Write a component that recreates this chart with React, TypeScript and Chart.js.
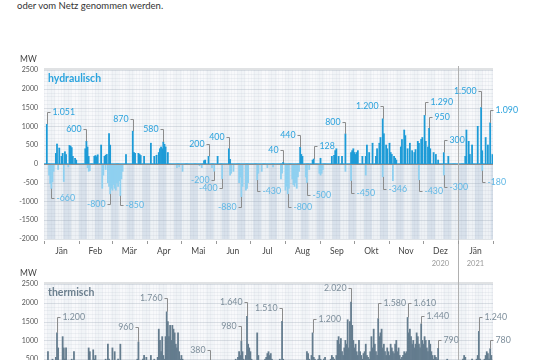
import React, { useEffect, useRef } from 'react';
import { Chart, registerables } from 'chart.js';
Chart.register(...registerables);

const MONTHS = ['Jän', 'Feb', 'Mär', 'Apr', 'Mai', 'Jun', 'Jul', 'Aug', 'Sep', 'Okt', 'Nov', 'Dez', 'Jän'];
const MONTH_DAYS = [31, 29, 31, 30, 31, 30, 31, 31, 30, 31, 30, 31, 31];
const YEAR_LABELS = [{ text: '2020', month: 11 }, { text: '2021', month: 12 }];
const TOP_TICKS = [2500, 2000, 1500, 1000, 500, 0, -500, -1000, -1500, -2000];
const BOTTOM_TICKS = [2500, 2000, 1500, 1000, 500, 0];

// hydraulisch, daily maximum feed-in (MW), sparse per month: {dayOfMonthIndex: MW}
const HYDRO_POS: Record<number, number>[] = [
  { 2: 1051, 10: 280, 11: 530, 13: 420, 15: 200, 16: 280, 18: 320, 19: 250, 22: 490, 23: 470, 24: 430, 25: 200, 27: 150, 28: 100 },
  { 5: 400, 6: 600, 7: 450, 8: 200, 13: 200, 14: 220, 15: 190, 16: 240, 19: 500, 22: 200, 23: 230, 24: 250, 26: 810, 27: 500 },
  { 12: 250, 18: 870, 19: 300, 20: 280, 23: 280, 24: 250, 25: 220, 28: 200 },
  { 3: 550, 6: 200, 8: 230, 10: 300, 11: 400, 12: 450, 13: 400, 14: 580, 15: 520, 16: 450, 18: 300 },
  { 20: 80, 21: 100, 24: 200 },
  { 1: 200, 11: 400, 12: 120 },
  { 29: 40 },
  { 13: 440, 14: 250, 15: 200, 24: 100, 25: 128 },
  { 0: 150, 10: 200, 12: 230, 13: 350, 14: 400, 16: 200, 19: 200, 22: 800, 27: 300, 28: 350, 29: 400 },
  { 0: 300, 1: 250, 2: 300, 3: 350, 7: 200, 10: 200, 11: 500, 13: 300, 16: 550, 19: 200, 20: 400, 22: 550, 23: 700, 25: 1200, 26: 800, 28: 500, 29: 400 },
  { 0: 550, 1: 300, 2: 250, 4: 200, 5: 150, 6: 100, 10: 450, 11: 650, 13: 900, 14: 750, 16: 400, 18: 550, 20: 350, 22: 300, 23: 380, 25: 600, 26: 550, 28: 650, 29: 700 },
  { 1: 1290, 2: 600, 4: 450, 5: 950, 6: 400, 9: 300, 11: 250, 13: 100, 18: 300, 22: 200 },
  { 6: 200, 7: 900, 9: 600, 10: 250, 12: 500, 17: 1000, 20: 1500, 21: 350, 24: 700, 26: 500, 28: 1090, 30: 250 },
];

// hydraulisch, daily maximum consumption (pumping), MW
const HYDRO_NEG: Record<number, number>[] = [
  { 4: -300, 5: -520, 6: -660, 7: -480, 8: -200, 12: -150, 17: -470, 21: -80 },
  { 7: -100, 8: -200, 9: -180, 20: -650, 21: -300, 23: -150, 25: -500, 26: -600, 27: -800, 28: -650 },
  { 0: -700, 1: -550, 2: -650, 3: -700, 4: -500, 5: -600, 6: -450, 7: -850, 8: -400, 9: -200 },
  { 26: -100, 28: -80 },
  { 1: -200, 16: -50, 18: -100, 27: -100, 29: -200 },
  { 5: -400, 12: -300, 13: -250, 15: -200, 20: -500, 21: -350, 22: -880, 23: -600, 26: -700, 27: -650, 28: -500 },
  { 6: -430, 7: -250, 10: -200, 15: -100, 20: -80, 27: -400, 28: -250 },
  { 0: -700, 1: -600, 2: -800, 3: -650, 6: -400, 7: -550, 8: -600, 9: -500, 10: -650, 11: -350, 12: -200, 18: -350, 19: -500, 21: -150, 30: -250 },
  { 0: -300, 1: -250, 2: -150, 22: -200, 27: -450 },
  { 10: -300, 25: -346 },
  { 3: -450, 26: -430 },
  { 18: -300 },
  { 21: -180 },
];

// thermisch, daily values (MW), one row per month
const THERMAL: number[][] = [
  [300, 250, 400, 700, 350, 300, 450, 500, 300, 350, 550, 1200, 800, 400, 350, 450, 1100, 800, 500, 800, 400, 300, 350, 450, 500, 400, 700, 350, 300, 250, 300],
  [300, 350, 400, 300, 250, 400, 450, 350, 800, 700, 400, 350, 750, 500, 600, 400, 350, 300, 400, 450, 350, 300, 400, 500, 450, 900, 500, 400, 350],
  [800, 450, 700, 400, 350, 500, 450, 900, 400, 350, 300, 400, 350, 300, 250, 350, 400, 450, 350, 300, 400, 350, 500, 960, 450, 400, 350, 500, 600, 450, 550],
  [400, 350, 450, 600, 400, 350, 500, 450, 400, 550, 1300, 1000, 700, 1100, 600, 500, 1100, 1760, 1500, 1100, 1400, 1000, 1400, 1300, 1200, 900, 800, 1200, 700, 500],
  [600, 500, 400, 350, 300, 350, 400, 300, 250, 300, 350, 400, 450, 300, 250, 200, 300, 350, 250, 300, 350, 300, 250, 200, 300, 380, 250, 200, 300, 250, 350],
  [300, 350, 400, 300, 250, 300, 350, 400, 450, 300, 350, 400, 300, 250, 350, 400, 450, 500, 400, 550, 700, 600, 980, 700, 500, 450, 600, 1640, 900, 800],
  [700, 500, 450, 400, 350, 400, 1200, 600, 450, 400, 350, 400, 450, 500, 550, 650, 700, 600, 650, 500, 400, 350, 300, 350, 400, 450, 500, 400, 1510, 500, 450],
  [400, 350, 300, 350, 400, 300, 250, 300, 350, 300, 250, 300, 350, 400, 350, 300, 350, 400, 450, 700, 650, 500, 450, 600, 1200, 550, 500, 450, 400, 500, 600],
  [500, 450, 400, 500, 550, 450, 400, 350, 400, 500, 600, 550, 500, 450, 600, 1000, 1100, 900, 1050, 700, 600, 800, 1000, 900, 1550, 800, 1500, 2020, 1400, 1000],
  [800, 900, 700, 600, 1000, 700, 600, 500, 650, 700, 900, 600, 550, 500, 700, 1100, 800, 1300, 900, 700, 600, 1580, 1100, 1200, 1300, 800, 900, 700, 600, 800, 700],
  [600, 900, 800, 700, 650, 900, 1000, 700, 800, 600, 500, 550, 600, 700, 650, 700, 1610, 1200, 1300, 1100, 900, 1000, 800, 900, 1200, 1100, 900, 800, 1440, 1000],
  [900, 1100, 1000, 800, 700, 1000, 900, 700, 600, 500, 600, 550, 500, 790, 450, 400, 350, 400, 300, 350, 400, 500, 350, 300, 250, 300, 350, 300, 250, 200, 300],
  [300, 350, 400, 450, 500, 600, 550, 400, 350, 300, 400, 450, 500, 400, 350, 450, 500, 600, 1240, 500, 450, 400, 350, 500, 600, 700, 650, 500, 780, 600, 400],
];

type Note = { m: number; d: number; at: number; side: 'l' | 'r' };
// labelled values: month, day index, MW height of the label, side of the label
const HYDRO_POS_NOTES: Note[] = [
  { m: 0, d: 2, at: 1380, side: 'r' }, { m: 1, d: 6, at: 920, side: 'l' }, { m: 2, d: 18, at: 1205, side: 'l' },
  { m: 3, d: 14, at: 920, side: 'l' }, { m: 4, d: 24, at: 540, side: 'l' }, { m: 5, d: 11, at: 710, side: 'l' },
  { m: 6, d: 29, at: 380, side: 'l' }, { m: 7, d: 13, at: 770, side: 'l' }, { m: 7, d: 25, at: 480, side: 'r' },
  { m: 8, d: 22, at: 1125, side: 'l' }, { m: 9, d: 25, at: 1550, side: 'l' }, { m: 11, d: 1, at: 1655, side: 'r' },
  { m: 11, d: 5, at: 1260, side: 'r' }, { m: 11, d: 18, at: 640, side: 'r' }, { m: 12, d: 20, at: 1950, side: 'l' },
  { m: 12, d: 28, at: 1435, side: 'r' },
];
const HYDRO_NEG_NOTES: Note[] = [
  { m: 0, d: 6, at: -895, side: 'r' }, { m: 1, d: 27, at: -1075, side: 'l' }, { m: 2, d: 7, at: -1100, side: 'r' },
  { m: 4, d: 29, at: -425, side: 'l' }, { m: 5, d: 5, at: -630, side: 'l' }, { m: 5, d: 22, at: -1135, side: 'l' },
  { m: 6, d: 6, at: -735, side: 'r' }, { m: 7, d: 2, at: -1135, side: 'r' }, { m: 7, d: 19, at: -835, side: 'r' },
  { m: 8, d: 27, at: -765, side: 'r' }, { m: 9, d: 25, at: -665, side: 'r' }, { m: 10, d: 26, at: -720, side: 'r' },
  { m: 11, d: 18, at: -605, side: 'r' }, { m: 12, d: 21, at: -490, side: 'r' },
];
const THERMAL_NOTES: Note[] = [
  { m: 0, d: 11, at: 1615, side: 'r' }, { m: 2, d: 23, at: 1365, side: 'l' }, { m: 3, d: 17, at: 2120, side: 'l' },
  { m: 4, d: 25, at: 745, side: 'l' }, { m: 5, d: 22, at: 1390, side: 'l' }, { m: 5, d: 27, at: 2010, side: 'l' },
  { m: 6, d: 28, at: 1870, side: 'l' }, { m: 7, d: 24, at: 1560, side: 'r' }, { m: 8, d: 27, at: 2400, side: 'l' },
  { m: 9, d: 21, at: 1985, side: 'r' }, { m: 10, d: 16, at: 1985, side: 'r' }, { m: 10, d: 28, at: 1660, side: 'r' },
  { m: 11, d: 13, at: 1010, side: 'r' }, { m: 12, d: 18, at: 1630, side: 'r' }, { m: 12, d: 28, at: 1010, side: 'r' },
];

const FONT = 'Lato, "Open Sans", sans-serif';
const HYDRO_COLOR = '#1d9bd7';
const HYDRO_NEG_COLOR = '#8fd0f0';
const THERMAL_COLOR = '#647c8e';

const MONTH_START: number[] = [];
MONTH_DAYS.reduce((acc, n, i) => { MONTH_START[i] = acc; return acc + n; }, 0);
const CATEGORIES: string[] = [];
MONTH_DAYS.forEach((n, m) => { for (let d = 0; d < n; d++) CATEGORIES.push(`${d + 1}. ${MONTHS[m]}`); });

const denseFromSparse = (rows: Record<number, number>[]) =>
  rows.flatMap((row, m) => Array.from({ length: MONTH_DAYS[m] }, (_, d) => row[d] ?? 0));
const denseFromRows = (rows: number[][]) => rows.flat();

function fmt(v: number) {
  const s = Math.abs(v).toString();
  const t = s.length > 3 ? s.slice(0, -3) + '.' + s.slice(-3) : s;
  return (v < 0 ? '-' : '') + t;
}

type PanelCfg = {
  title: string;
  titleColor: string;
  ticks: number[];
  showXAxis: boolean;
  notes: { list: Note[]; data: number[]; color: string }[];
  dividerTop: number;
};

function makePanelPlugin(cfg: PanelCfg) {
  return {
    id: 'panelDeco',
    beforeDatasetsDraw(chart: any) {
      const { ctx, chartArea, scales } = chart;
      const { left, right, top, bottom } = chartArea;
      const x = scales.x, y = scales.y;
      const n = CATEGORIES.length;
      const w = (right - left) / n;
      const y0 = Math.min(bottom, y.getPixelForValue(0));
      ctx.save();
      ctx.fillStyle = '#f8f9fb';
      ctx.fillRect(left, top, right - left, bottom - top);
      if (y0 < bottom) {
        ctx.fillStyle = '#edf1f5';
        ctx.fillRect(left, y0, right - left, bottom - y0);
      }
      // alternating week bands
      for (let i = 3; i < n; i += 14) {
        const x0 = x.getPixelForValue(i) - w / 2;
        const ww = Math.min(7 * w, right - x0);
        ctx.fillStyle = 'rgba(205,216,228,0.16)';
        ctx.fillRect(x0, top, ww, y0 - top);
        if (y0 < bottom) {
          ctx.fillStyle = 'rgba(196,210,225,0.5)';
          ctx.fillRect(x0, y0, ww, bottom - y0);
        }
      }
      // fine grid
      ctx.lineWidth = 1;
      for (let v = y.min; v <= y.max; v += 100) {
        const py = Math.round(y.getPixelForValue(v)) + 0.5;
        ctx.strokeStyle = v % 500 === 0 ? 'rgba(150,162,175,0.3)' : 'rgba(160,172,185,0.12)';
        ctx.beginPath(); ctx.moveTo(left, py); ctx.lineTo(right, py); ctx.stroke();
      }
      ctx.strokeStyle = 'rgba(160,172,185,0.08)';
      for (let i = 0; i < n; i += 3) {
        const px = Math.round(x.getPixelForValue(i) - w / 2) + 0.5;
        ctx.beginPath(); ctx.moveTo(px, top); ctx.lineTo(px, bottom); ctx.stroke();
      }
      // top border
      ctx.fillStyle = '#e0e2e4';
      ctx.fillRect(left, top - 2, right - left, 2);
      ctx.restore();
    },
    afterDatasetsDraw(chart: any) {
      const { ctx, chartArea, scales } = chart;
      const { left, right, top, bottom } = chartArea;
      const x = scales.x, y = scales.y;
      const n = CATEGORIES.length;
      const w = (right - left) / n;
      const boundary = (i: number) => x.getPixelForValue(i) - w / 2;
      ctx.save();
      // zero line
      if (y.min < 0) {
        const py = Math.round(y.getPixelForValue(0)) + 0.5;
        ctx.strokeStyle = '#8e8e8e'; ctx.lineWidth = 1;
        ctx.beginPath(); ctx.moveTo(left, py); ctx.lineTo(right, py); ctx.stroke();
      }
      // year divider
      const dx = Math.round(boundary(MONTH_START[12])) + 0.5;
      ctx.strokeStyle = '#b0b0b0'; ctx.lineWidth = 1;
      ctx.beginPath(); ctx.moveTo(dx, cfg.dividerTop); ctx.lineTo(dx, chart.height); ctx.stroke();

      // y tick labels
      ctx.fillStyle = '#555';
      ctx.font = `7px ${FONT}`;
      ctx.textAlign = 'right'; ctx.textBaseline = 'middle';
      cfg.ticks.forEach((v) => ctx.fillText(String(v), left - 6, y.getPixelForValue(v)));
      ctx.font = `8.5px ${FONT}`;
      ctx.textAlign = 'left';
      ctx.fillStyle = '#444';
      ctx.fillText('MW', 20, top - 11);

      // title
      ctx.font = `bold 10.5px ${FONT}`;
      ctx.fillStyle = cfg.titleColor;
      ctx.fillText(cfg.title, left + 4, top + 9);

      if (cfg.showXAxis) {
        ctx.strokeStyle = '#999';
        for (let m = 0; m <= MONTHS.length; m++) {
          const idx = m < MONTHS.length ? MONTH_START[m] : n;
          const px = Math.round(idx < n ? boundary(idx) : right) + 0.5;
          ctx.beginPath(); ctx.moveTo(px, bottom + 2); ctx.lineTo(px, bottom + 5); ctx.stroke();
        }
        ctx.font = `8.5px ${FONT}`;
        ctx.fillStyle = '#444';
        ctx.textAlign = 'center';
        MONTHS.forEach((name, m) => {
          const a = boundary(MONTH_START[m]);
          const b = m + 1 < MONTHS.length ? boundary(MONTH_START[m + 1]) : right;
          ctx.fillText(name, (a + b) / 2, bottom + 12);
        });
        ctx.font = `7.5px ${FONT}`;
        ctx.fillStyle = '#9a9a9a';
        YEAR_LABELS.forEach(({ text, month }) => {
          const a = boundary(MONTH_START[month]);
          const b = month + 1 < MONTHS.length ? boundary(MONTH_START[month + 1]) : right;
          ctx.fillText(text, (a + b) / 2, bottom + 25);
        });
      }

      // annotations
      ctx.font = `8.8px ${FONT}`;
      ctx.textBaseline = 'middle';
      cfg.notes.forEach(({ list, data, color }) => {
        list.forEach((note) => {
          const idx = MONTH_START[note.m] + note.d;
          const val = data[idx];
          const px = Math.round(x.getPixelForValue(idx)) + 0.5;
          const pyBar = y.getPixelForValue(val);
          const pyLab = Math.round(y.getPixelForValue(note.at)) + 0.5;
          const dir = note.side === 'r' ? 1 : -1;
          ctx.strokeStyle = '#8c8c8c'; ctx.lineWidth = 1;
          ctx.beginPath();
          ctx.moveTo(px, pyBar);
          ctx.lineTo(px, pyLab);
          ctx.lineTo(px + dir * 3, pyLab);
          ctx.stroke();
          ctx.fillStyle = color;
          ctx.textAlign = dir > 0 ? 'left' : 'right';
          ctx.fillText(fmt(val), px + dir * 5, pyLab);
        });
      });
      ctx.restore();
    },
  };
}

function barDataset(label: string, data: number[], color: string) {
  return {
    label, data, backgroundColor: color, borderWidth: 0,
    barPercentage: 1, categoryPercentage: 1,
  };
}

function PanelChart(props: {
  top: number; height: number; padding: any; min: number; max: number;
  datasets: any[]; cfg: PanelCfg;
}) {
  const ref = useRef<HTMLCanvasElement>(null);
  useEffect(() => {
    if (!ref.current) return;
    const chart = new Chart(ref.current, {
      type: 'bar',
      data: { labels: CATEGORIES, datasets: props.datasets },
      options: {
        animation: false,
        responsive: false,
        maintainAspectRatio: false,
        events: [],
        layout: { padding: props.padding },
        plugins: { legend: { display: false }, tooltip: { enabled: false } },
        scales: {
          x: { display: false, stacked: true },
          y: { display: false, stacked: true, min: props.min, max: props.max },
        },
      },
      plugins: [makePanelPlugin(props.cfg)],
    } as any);
    return () => chart.destroy();
  }, []);
  return (
    <canvas
      ref={ref}
      width={540}
      height={props.height}
      style={{ position: 'absolute', left: 0, top: props.top, width: 540, height: props.height }}
    />
  );
}

export default function App() {
  const hydroPos = denseFromSparse(HYDRO_POS);
  const hydroNeg = denseFromSparse(HYDRO_NEG);
  const thermal = denseFromRows(THERMAL);
  return (
    <div style={{ position: 'fixed', left: 0, top: 0, width: 540, height: 360, overflow: 'hidden', background: '#fff' }}>
      <div style={{ position: 'absolute', left: 17, top: 0, font: `9.5px ${FONT}`, color: '#333', whiteSpace: 'nowrap' }}>
        oder vom Netz genommen werden.
      </div>
      <PanelChart
        top={0}
        height={266}
        padding={{ left: 44, right: 47, top: 70, bottom: 27 }}
        min={-2000}
        max={2500}
        datasets={[
          barDataset('hydraulisch Einspeisung', hydroPos, HYDRO_COLOR),
          barDataset('hydraulisch Verbrauch', hydroNeg, HYDRO_NEG_COLOR),
        ]}
        cfg={{
          title: 'hydraulisch',
          titleColor: '#2aa3de',
          ticks: TOP_TICKS,
          showXAxis: true,
          dividerTop: 66,
          notes: [
            { list: HYDRO_POS_NOTES, data: hydroPos, color: '#2ba2dd' },
            { list: HYDRO_NEG_NOTES, data: hydroNeg, color: '#5fb7e5' },
          ],
        }}
      />
      <PanelChart
        top={266}
        height={200}
        padding={{ left: 44, right: 47, top: 18, bottom: 88 }}
        min={0}
        max={2500}
        datasets={[barDataset('thermisch', thermal, THERMAL_COLOR)]}
        cfg={{
          title: 'thermisch',
          titleColor: '#6b7f8e',
          ticks: BOTTOM_TICKS,
          showXAxis: false,
          dividerTop: 0,
          notes: [{ list: THERMAL_NOTES, data: thermal, color: '#7d8e9b' }],
        }}
      />
    </div>
  );
}
